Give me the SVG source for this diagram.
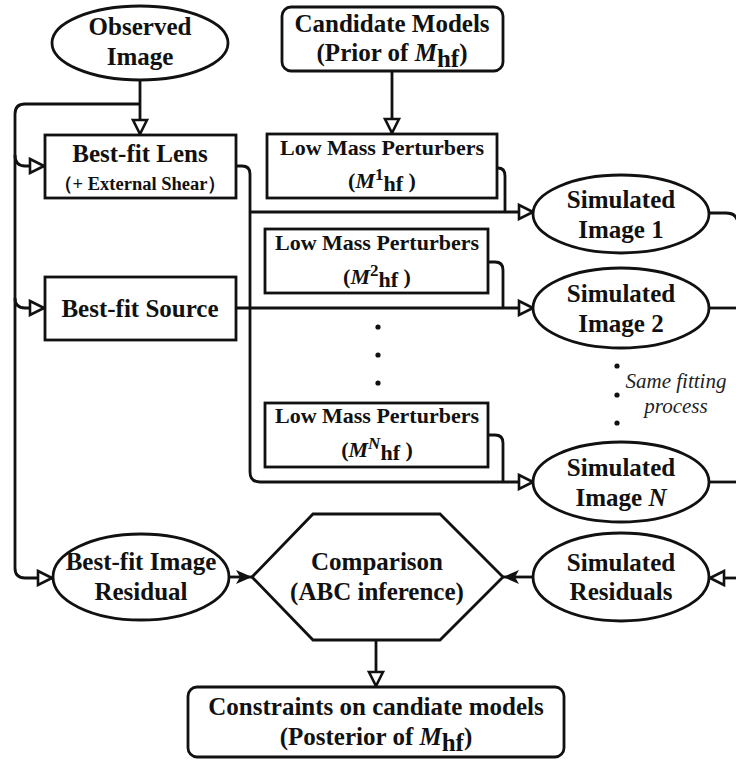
<svg xmlns="http://www.w3.org/2000/svg" width="736" height="760" viewBox="0 0 736 760">
<defs>
<style>
.n{fill:#fff;stroke:#111;stroke-width:2.8}
.c{fill:none;stroke:#111;stroke-width:2.8}
text{font-family:"Liberation Serif","Times New Roman",serif;font-weight:bold;fill:#111;text-anchor:middle}
.t{font-size:25px}
.s{font-size:22px}
.x{font-size:18.5px}
.i{font-style:italic}
.note{font-size:21px;font-weight:normal;font-style:italic;fill:#222}
.dot{fill:#111}
</style>
<marker id="h" markerUnits="userSpaceOnUse" viewBox="-2 -2 18 18" refX="14" refY="7" markerWidth="18" markerHeight="18" orient="auto">
<path d="M0,0 L14,7 L0,14 Z" fill="#fff" stroke="#111" stroke-width="2.6"/>
</marker>
<marker id="f" markerUnits="userSpaceOnUse" viewBox="-2 -2 20 18" refX="16" refY="7" markerWidth="20" markerHeight="18" orient="auto">
<path d="M0,0 L16,7 L0,14 L4,7 Z" fill="#111"/>
</marker>
</defs>
<rect width="736" height="760" fill="#fff"/>

<g id="connectors">
<path class="c" d="M140,80 V134" marker-end="url(#h)"/>
<path class="c" d="M140,104 H25 Q15,104 15,114 V568 Q15,578 25,578 H52" marker-end="url(#h)"/>
<path class="c" d="M15,155 Q15,166 25,166 H44" marker-end="url(#h)"/>
<path class="c" d="M15,298 Q15,308 25,308 H44" marker-end="url(#h)"/>
<path class="c" d="M392,71 V133" marker-end="url(#h)"/>
<path class="c" d="M236,166 H242 Q250,166 250,174 V472 Q250,482 260,482 H533" marker-end="url(#h)"/>
<path class="c" d="M250,212 H533" marker-end="url(#h)"/>
<path class="c" d="M236,308 H533" marker-end="url(#h)"/>
<path class="c" d="M497,168 H498 Q505,168 505,176 V212"/>
<path class="c" d="M488,262 H495 Q503,262 503,270 V308"/>
<path class="c" d="M488,435 H495 Q503,435 503,443 V482"/>
<path class="c" d="M709,213 H726 Q738,213 738,225 V566"/>
<path class="c" d="M709,308 H740"/>
<path class="c" d="M709,482 H740"/>
<path class="c" d="M740,578 H710" marker-end="url(#h)"/>
<path class="c" d="M229,577 H252" marker-end="url(#f)"/>
<path class="c" d="M533,577 H503" marker-end="url(#f)"/>
<path class="c" d="M376,640 V686" marker-end="url(#h)"/>
</g>

<g id="observed-image">
<ellipse class="n" cx="140" cy="43" rx="88" ry="37"/>
<text class="t" x="140" y="35">Observed</text>
<text class="t" x="140" y="65">Image</text>
</g>

<g id="candidate-models">
<rect class="n" x="282" y="7" width="221" height="64" rx="9"/>
<text class="t" x="392" y="32">Candidate Models</text>
<text class="t" x="392" y="61">(Prior of <tspan class="i">M</tspan><tspan dy="6">hf</tspan><tspan dy="-6">)</tspan></text>
</g>

<g id="best-fit-lens">
<rect class="n" x="45" y="135" width="191" height="63"/>
<text class="t" x="140" y="162">Best-fit Lens</text>
<text class="x" x="140" y="190">（+ External Shear）</text>
</g>

<g id="best-fit-source">
<rect class="n" x="45" y="277" width="191" height="63"/>
<text class="t" x="140" y="317">Best-fit Source</text>
</g>

<g id="lmp-1">
<rect class="n" x="267" y="134" width="230" height="64"/>
<text class="s" x="382" y="155">Low Mass Perturbers</text>
<text class="s" x="382" y="188">(<tspan class="i">M</tspan><tspan dy="-8" font-size="17">1</tspan><tspan dy="11">hf</tspan><tspan dy="-3"> )</tspan></text>
</g>

<g id="lmp-2">
<rect class="n" x="265" y="229" width="223" height="64"/>
<text class="s" x="377" y="250">Low Mass Perturbers</text>
<text class="s" x="377" y="284">(<tspan class="i">M</tspan><tspan dy="-8" font-size="17">2</tspan><tspan dy="11">hf</tspan><tspan dy="-3"> )</tspan></text>
</g>

<g id="lmp-dots">
<circle class="dot" cx="378" cy="327" r="2.6"/>
<circle class="dot" cx="378" cy="355" r="2.6"/>
<circle class="dot" cx="378" cy="383" r="2.6"/>
</g>

<g id="lmp-n">
<rect class="n" x="265" y="403" width="223" height="64"/>
<text class="s" x="377" y="423">Low Mass Perturbers</text>
<text class="s" x="377" y="457">(<tspan class="i">M</tspan><tspan dy="-8" font-size="17" class="i">N</tspan><tspan dy="11">hf</tspan><tspan dy="-3"> )</tspan></text>
</g>

<g id="simulated-image-1">
<ellipse class="n" cx="621" cy="214" rx="88" ry="39"/>
<text class="t" x="621" y="208">Simulated</text>
<text class="t" x="621" y="238">Image 1</text>
</g>

<g id="simulated-image-2">
<ellipse class="n" cx="621" cy="308" rx="88" ry="40"/>
<text class="t" x="621" y="302">Simulated</text>
<text class="t" x="621" y="332">Image 2</text>
</g>

<g id="same-fitting">
<circle class="dot" cx="617" cy="366" r="2.6"/>
<circle class="dot" cx="617" cy="395" r="2.6"/>
<circle class="dot" cx="617" cy="423" r="2.6"/>
<text class="note" x="676" y="388">Same fitting</text>
<text class="note" x="676" y="413">process</text>
</g>

<g id="simulated-image-n">
<ellipse class="n" cx="621" cy="482" rx="88" ry="40"/>
<text class="t" x="621" y="476">Simulated</text>
<text class="t" x="621" y="506">Image <tspan class="i">N</tspan></text>
</g>

<g id="best-fit-residual">
<ellipse class="n" cx="141" cy="577" rx="88" ry="43"/>
<text class="t" x="141" y="570">Best-fit Image</text>
<text class="t" x="141" y="600">Residual</text>
</g>

<g id="comparison">
<polygon class="n" points="252,577 313,514 440,514 503,577 440,640 313,640"/>
<text class="t" x="377" y="570">Comparison</text>
<text class="t" x="377" y="600">(ABC inference)</text>
</g>

<g id="simulated-residuals">
<ellipse class="n" cx="621" cy="577" rx="88" ry="44"/>
<text class="t" x="621" y="571">Simulated</text>
<text class="t" x="621" y="600">Residuals</text>
</g>

<g id="constraints">
<rect class="n" x="188" y="687" width="376" height="70" rx="9"/>
<text class="t" x="376" y="715">Constraints on candiate models</text>
<text class="t" x="376" y="745">(Posterior of <tspan class="i">M</tspan><tspan dy="6">hf</tspan><tspan dy="-6">)</tspan></text>
</g>
</svg>
